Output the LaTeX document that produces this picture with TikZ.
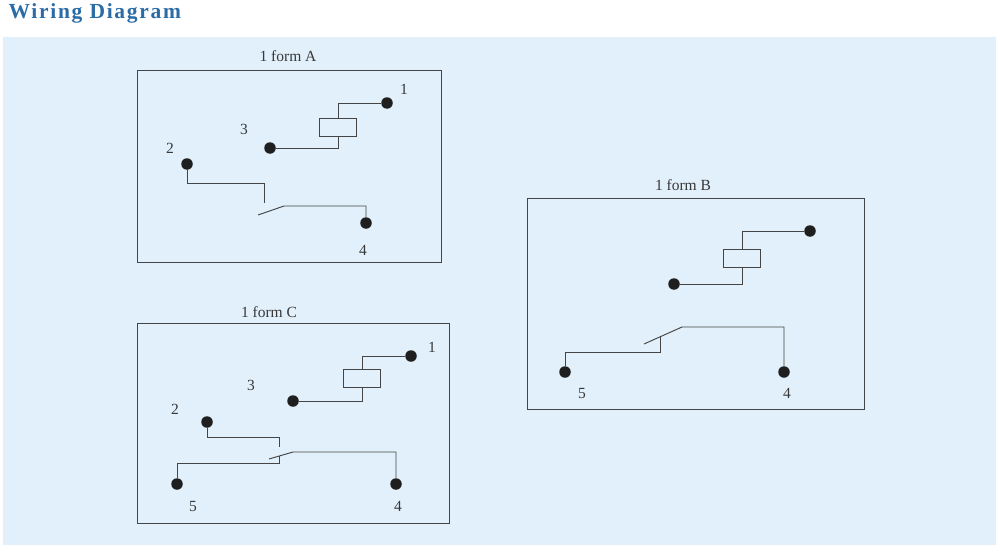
\documentclass[tikz,border=0pt]{standalone}
\usepackage{fontspec}
\setmainfont{Liberation Serif}
\usetikzlibrary{positioning}
\definecolor{panelblue}{HTML}{E1F0FB}
\definecolor{headblue}{HTML}{2B6CA6}
\definecolor{wire}{HTML}{454545}

\tikzset{
  pin/.style = {circle, fill=black!88, inner sep=0pt, minimum size=11.5},
  coil/.style = {draw=wire, line width=1pt, inner sep=0pt, minimum width=37, minimum height=18},
  frame/.style = {draw=wire, line width=0.9pt, inner sep=0pt},
  num/.style = {font=\fontsize{15.5}{16}\selectfont, text=black!78},
  wiring/.style = {draw=wire, line width=0.95pt},
}

\begin{document}
\begin{tikzpicture}[x=1pt, y=-1pt]
    \useasboundingbox (0,0) rectangle (1000,551);
    \fill[panelblue] (3,37) rectangle (996,545);
    \node[anchor=base west, text=headblue, font=\bfseries\fontsize{21.5}{22}\selectfont\addfontfeatures{LetterSpace=8}] (head) at (5,18.5) {Wiring Diagram};

    % 1 form A
    \node[frame, minimum width=304, minimum height=192] (boxA) at (289,166) {};
    \node[num] (tA) at (288,56) {1 form A};
    \node[coil] (cA) at (338,127) {};
    \node[pin] (a1) at (387,103) {};
    \node[pin] (a3) at (270,148) {};
    \node[pin] (a2) at (187,164) {};
    \node[pin] (a4) at (366,223) {};
    \node[num] (l1A) at (404,89) {1};
    \node[num] (l3A) at (244,129) {3};
    \node[num] (l2A) at (170,148) {2};
    \node[num] (l4A) at (363,250) {4};
    \coordinate (kA) at (264,183);
    \coordinate (nA) at (264,203);
    \coordinate (bA) at (258,215);
    \coordinate (hA) at (284,206);
    \draw[wiring] (cA.north) |- (a1);
    \draw[wiring] (cA.south) |- (a3);
    \draw[wiring] (a2) |- (kA) -- (nA);
    \draw[wiring] (bA) -- (hA) -| (a4);

    % 1 form B
    \node[frame, minimum width=337, minimum height=211] (boxB) at (696,304) {};
    \node[num] (tB) at (683,185) {1 form B};
    \node[coil] (cB) at (742,258) {};
    \node[pin] (b1) at (810,231) {};
    \node[pin] (b3) at (674,284) {};
    \node[pin] (b5) at (565,372) {};
    \node[pin] (b4) at (784,372) {};
    \node[num] (l5B) at (582,393) {5};
    \node[num] (l4B) at (787,393) {4};
    \coordinate (sB) at (660,352);
    \coordinate (nB) at (660,337);
    \coordinate (bB) at (644,344);
    \coordinate (hB) at (682,327);
    \draw[wiring] (cB.north) |- (b1);
    \draw[wiring] (cB.south) |- (b3);
    \draw[wiring] (b5) |- (sB) -- (nB);
    \draw[wiring] (bB) -- (hB) -| (b4);

    % 1 form C
    \node[frame, minimum width=312, minimum height=200] (boxC) at (293,423) {};
    \node[num] (tC) at (269,312) {1 form C};
    \node[coil] (cC) at (362,378) {};
    \node[pin] (c1) at (411,356) {};
    \node[pin] (c3) at (293,401) {};
    \node[pin] (c2) at (207,422) {};
    \node[pin] (c5) at (177,484) {};
    \node[pin] (c4) at (396,484) {};
    \node[num] (l1C) at (432,347) {1};
    \node[num] (l3C) at (251,385) {3};
    \node[num] (l2C) at (175,409) {2};
    \node[num] (l5C) at (193,506) {5};
    \node[num] (l4C) at (398,506) {4};
    \coordinate (kC) at (279,437);
    \coordinate (nC) at (279,447);
    \coordinate (sC) at (279,463);
    \coordinate (mC) at (279,456);
    \coordinate (bC) at (269,459);
    \coordinate (hC) at (293,452);
    \draw[wiring] (cC.north) |- (c1);
    \draw[wiring] (cC.south) |- (c3);
    \draw[wiring] (c2) |- (kC) -- (nC);
    \draw[wiring] (c5) |- (sC) -- (mC);
    \draw[wiring] (bC) -- (hC) -| (c4);
\end{tikzpicture}
\end{document}
